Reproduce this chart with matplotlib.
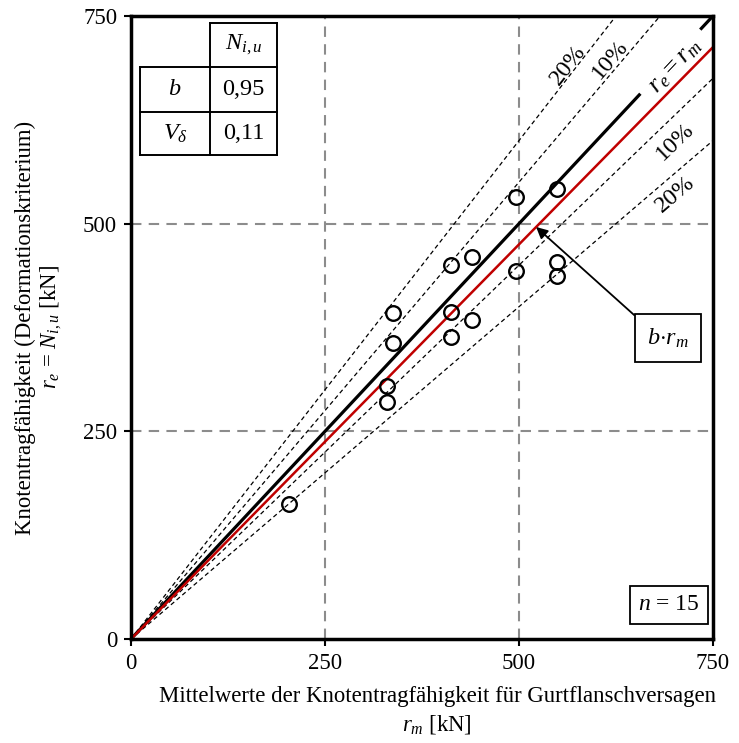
import matplotlib.pyplot as plt
import numpy as np

plt.rcParams['font.family'] = 'Liberation Serif'
plt.rcParams['mathtext.fontset'] = 'custom'
plt.rcParams['mathtext.rm'] = 'Liberation Serif'
plt.rcParams['mathtext.it'] = 'Liberation Serif:italic'
plt.rcParams['mathtext.bf'] = 'Liberation Serif:bold'
plt.rcParams['font.size'] = 16.4

# test results: mean resistance r_m vs. experimental resistance r_e [kN]
r_m = [204, 330, 330, 337, 337, 413, 413, 413, 439, 439, 496, 496, 549, 549, 549]
r_e = [163, 285, 305, 356, 392, 363, 394, 450, 384, 460, 443, 532, 437, 454, 542]
b = 0.95
V_delta = 0.11
ticks = [0, 250, 500, 750]
bands = [1.2, 1.1, 0.9, 0.8]
band_labels = ['20%', '10%', '10%', '20%']

fig = plt.figure(figsize=(7.39, 7.43), dpi=100)
ax = fig.add_axes([0.1773, 0.1400, 0.7875, 0.8385])

ax.set_xlim(0, 750)
ax.set_ylim(0, 750)
ax.set_xticks(ticks)
ax.set_yticks(ticks)
ax.tick_params(direction='out', length=5, width=1.5, pad=5)
for s in ax.spines.values():
    s.set_linewidth(2.5)

# grid
for t in [250, 500]:
    ax.axvline(t, color='#8c8c8c', lw=1.5, ls=(0, (5, 3.5)), zorder=0)
    ax.axhline(t, color='#8c8c8c', lw=1.5, ls=(0, (5, 3.5)), zorder=0)

# +-10% / +-20% bands
for f in bands:
    xe = min(750, 750 / f)
    ax.plot([0, xe], [0, f * xe], color='black', lw=0.9, ls=(0, (3.5, 2.5)), zorder=1)

# r_e = r_m line (interrupted for the label)
ax.plot([0, 655], [0, 655], color='black', lw=2.3, zorder=2)
ax.plot([735, 750], [735, 750], color='black', lw=2.3, zorder=2)
# b * r_m
ax.plot([0, 750], [0, b * 750], color='#c00000', lw=1.8, zorder=2)

ax.plot(r_m, r_e, 'o', mfc='none', mec='black', ms=10.5, mew=1.7, zorder=3)

# labels on lines
ax.text(702, 690, r'$r_e = r_m$', rotation=np.degrees(np.arctan(1.0)),
        transform_rotates_text=True, ha='center', va='center', fontsize=19)
lab_pos = [(564, 691), (617, 697), (701, 599), (701, 535)]
for (x, y), f, l in zip(lab_pos, bands, band_labels):
    ax.text(x, y, l, rotation=np.degrees(np.arctan(f)), transform_rotates_text=True,
            ha='center', va='center', fontsize=17.5)

# annotation b*r_m
ax.annotate(r'$b{\cdot}r_m$', xy=(522, 496), xytext=(692, 362),
            ha='center', va='center', fontsize=17.5,
            bbox=dict(boxstyle='square,pad=0.5', fc='white', ec='black', lw=1.3),
            arrowprops=dict(arrowstyle='-|>', color='black', lw=1.3,
                            mutation_scale=17, shrinkA=0, shrinkB=0,
                            relpos=(0, 1)))

ax.text(693, 41, r'$n$ = 15', ha='center', va='center', fontsize=17,
        bbox=dict(boxstyle='square,pad=0.35', fc='white', ec='black', lw=1.3))

# small table top left
xl = [0.0155, 0.1357, 0.2509]
yl = [0.9888, 0.9181, 0.8459, 0.7769]
tk = dict(transform=ax.transAxes, color='black', lw=1.4)
ax.plot([xl[1], xl[2]], [yl[0], yl[0]], **tk)
for y in yl[1:]:
    ax.plot([xl[0], xl[2]], [y, y], **tk)
ax.plot([xl[0], xl[0]], [yl[1], yl[3]], **tk)
ax.plot([xl[1], xl[1]], [yl[0], yl[3]], **tk)
ax.plot([xl[2], xl[2]], [yl[0], yl[3]], **tk)
cx0 = (xl[0] + xl[1]) / 2
cx1 = (xl[1] + xl[2]) / 2
tt = dict(transform=ax.transAxes, ha='center', va='center', fontsize=17.5)
ax.text(cx1, (yl[0] + yl[1]) / 2, r'$N_{i,u}$', **tt)
ax.text(cx0, (yl[1] + yl[2]) / 2, r'$b$', **tt)
ax.text(cx1, (yl[1] + yl[2]) / 2, ('%.2f' % b).replace('.', ','), **tt)
ax.text(cx0, (yl[2] + yl[3]) / 2, r'$V_\delta$', **tt)
ax.text(cx1, (yl[2] + yl[3]) / 2, ('%.2f' % V_delta).replace('.', ','), **tt)

ax.set_xlabel('Mittelwerte der Knotentragfähigkeit für Gurtflanschversagen\n' + r'$r_m$ [kN]',
              linespacing=1.35, labelpad=9)
ax.xaxis.label.set_x(0.526)
ax.set_ylabel('Knotentragfähigkeit (Deformationskriterium)\n' + r'$r_e$ = $N_{i,u}$ [kN]',
              linespacing=1.15, labelpad=14)

plt.savefig('out.png', dpi=100)
